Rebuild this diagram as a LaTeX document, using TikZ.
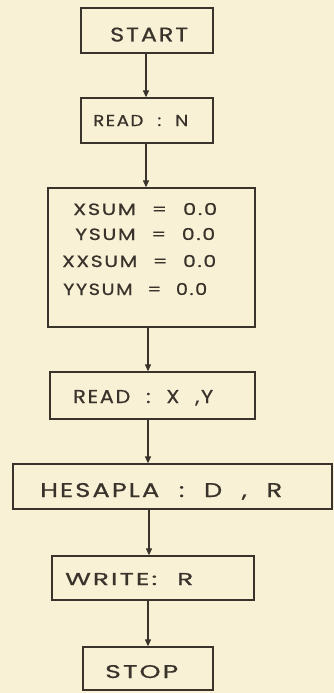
\documentclass[tikz,border=0pt]{standalone}
\usepackage{graphicx}
\usepackage{fontspec}
\setmainfont{Poppins}[LetterSpace=8, WordSpace=2.2, FakeBold=0.6]
\usetikzlibrary{arrows.meta}
\definecolor{paper}{HTML}{F8F1D6}
\definecolor{ink}{HTML}{3A332B}
% label scaled to a given width and cap height
\newcommand\fitlbl[3]{\resizebox{#1}{#2}{#3}}
\tikzset{
  box/.style={draw=ink, line width=1.3pt, rectangle, inner sep=0pt},
  lbl/.style={anchor=base west, inner sep=0pt, text=ink},
  arr/.style={draw=ink, line width=1.2pt, -{Triangle[length=7pt,width=6pt]}}
}
\begin{document}
\begin{tikzpicture}[x=1pt,y=-1pt]
  \fill[paper] (0,0) rectangle (334,693);
  \useasboundingbox (0,0) rectangle (334,693);

  % boxes
  \node[box, minimum width=132, minimum height=45] (start)   at (147,30.5)   {};
  \node[box, minimum width=132, minimum height=45] (readn)   at (147,120.5)  {};
  \node[box, minimum width=207, minimum height=139] (init)   at (151.5,257.5) {};
  \node[box, minimum width=205, minimum height=47] (readxy)  at (152.5,395.5) {};
  \node[box, minimum width=319, minimum height=45] (hesapla) at (172.5,486.5) {};
  \node[box, minimum width=202, minimum height=44] (write)   at (153,578)    {};
  \node[box, minimum width=130, minimum height=43] (stop)    at (148,668.5)  {};

  % texts
  \node[lbl] (tstart) at (110,41.5)  {\fitlbl{78pt}{14pt}{START}};
  \node[lbl] (treadn) at (93,126)    {\fitlbl{95pt}{11pt}{READ : N}};
  \node[lbl] (tx)     at (73,215)    {\fitlbl{144pt}{12pt}{XSUM = 0.0}};
  \node[lbl] (ty)     at (75,240)    {\fitlbl{140pt}{12pt}{YSUM = 0.0}};
  \node[lbl] (txx)    at (62,267)    {\fitlbl{154pt}{12pt}{XXSUM = 0.0}};
  \node[lbl] (tyy)    at (63,295)    {\fitlbl{144pt}{12pt}{YYSUM = 0.0}};
  \node[lbl] (treadxy) at (73,403)   {\fitlbl{140pt}{13pt}{READ : X ,Y}};
  \node[lbl] (thes)   at (40,497)    {\fitlbl{242pt}{14pt}{HESAPLA : D , R}};
  \node[lbl] (twrite) at (65,585)    {\fitlbl{128pt}{12pt}{WRITE: R}};
  \node[lbl] (tstop)  at (105,678)   {\fitlbl{73pt}{13pt}{STOP}};

  % flow
  \draw[arr] ([xshift=-1pt]start.south) -- ([xshift=-1pt]readn.north);
  \draw[arr] ([xshift=-1pt]readn.south) -- ([xshift=-5.5pt]init.north);
  \draw[arr] ([xshift=-3.5pt]init.south) -- ([xshift=-4.5pt]readxy.north);
  \draw[arr] ([xshift=-4.5pt]readxy.south) -- ([xshift=-24.5pt]hesapla.north);
  \draw[arr] ([xshift=-23.5pt]hesapla.south) -- ([xshift=-4pt]write.north);
  \draw[arr] ([xshift=-5pt]write.south) -- (stop.north);
\end{tikzpicture}
\end{document}
